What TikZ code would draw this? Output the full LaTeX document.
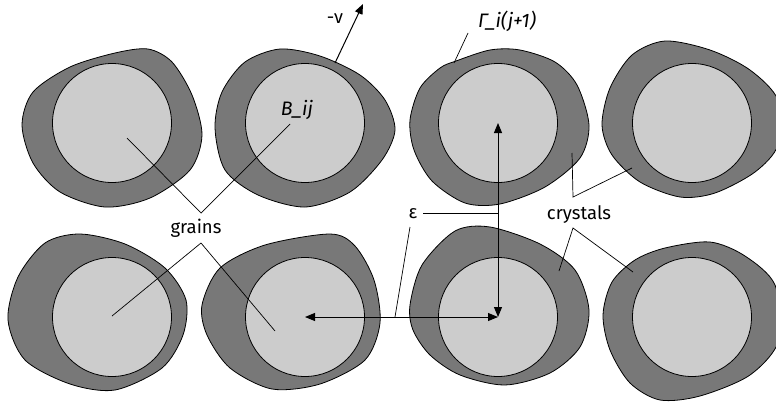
\documentclass[tikz,border=0pt]{standalone}
\usepackage{fontspec}
\setmainfont{Fira Sans}
\usetikzlibrary{arrows.meta}
\definecolor{crysgray}{RGB}{120,120,120}
\definecolor{graingray}{RGB}{204,204,204}
\begin{document}
\begin{tikzpicture}[x=1pt,y=-1pt,
  crystal/.style={draw=black, line width=0.8pt, fill=crysgray},
  grain/.style={draw=black, line width=0.8pt, fill=graingray},
  lead/.style={draw=black, line width=0.7pt},
  dimarrow/.style={draw=black, line width=1pt, {Triangle[length=10pt,width=8pt]}-{Triangle[length=10pt,width=8pt]}},
  velarrow/.style={draw=black, line width=1pt, -{Triangle[length=10pt,width=8pt]}},
  lbl/.style={font=\fontsize{18.5}{22}\selectfont, inner sep=0pt},
  ilbl/.style={font=\fontsize{19.5}{22}\selectfont\itshape, inner sep=0pt}
]
\useasboundingbox (0,0) rectangle (776,402);
\clip (0,0) rectangle (776,402);

% crystals
\draw[crystal] plot[smooth cycle] coordinates {(22,125) (33,92) (70,67) (115,53) (148,49) (172,62) (192,95) (202,135) (190,170) (150,198) (105,207) (60,192) (33,163)};
\draw[crystal] plot[smooth cycle] coordinates {(215,128) (222,92) (245,62) (280,49) (320,56) (360,75) (385,100) (395,130) (382,160) (350,192) (305,207) (258,195) (225,170)};
\draw[crystal] plot[smooth cycle] coordinates {(410,120) (420,88) (440,68) (456,61) (490,50) (520,50) (555,62) (577,85) (589,125) (580,158) (545,187) (500,204) (465,203) (432,181) (414,150)};
\draw[crystal] plot[smooth cycle] coordinates {(602,125) (610,88) (632,55) (665,41) (710,50) (750,70) (778,100) (778,145) (755,172) (715,193) (680,197) (640,182) (612,155)};
\draw[crystal] plot[smooth cycle] coordinates {(8,320) (18,277) (45,243) (80,234) (125,244) (165,268) (186,300) (183,335) (162,368) (115,390) (70,384) (25,360)};
\draw[crystal] plot[smooth cycle] coordinates {(202,305) (220,268) (265,245) (330,234) (355,246) (374,280) (380,323) (365,360) (320,384) (272,389) (230,368) (207,335)};
\draw[crystal] plot[smooth cycle] coordinates {(410,305) (422,265) (455,231) (490,227) (540,244) (575,270) (589,310) (580,347) (550,373) (505,385) (460,375) (430,355) (413,330)};
\draw[crystal] plot[smooth cycle] coordinates {(603,315) (612,282) (635,260) (665,248) (710,242) (745,256) (775,285) (779,340) (750,375) (700,396) (660,400) (630,383) (610,350)};

% grain centres
\coordinate (c1) at (112,123);
\coordinate (c2) at (305,123);
\coordinate (c3) at (498,123);
\coordinate (c4) at (692,123);
\coordinate (c5) at (112,317);
\coordinate (c6) at (305,317);
\coordinate (c7) at (498,317);
\coordinate (c8) at (692,317);
\foreach \c in {c1,c2,c3,c4,c5,c6,c7,c8}
  \draw[grain] (\c) circle[radius=59.5pt];

% labels
\node[lbl] (nu) at (335,19) {-ν};
\node[ilbl] (bij) at (297,110) {B\_ij};
\node[ilbl] (gam) at (507,21) {Γ\_i(j+1)};
\node[lbl] (grains) at (196,228) {grains};
\node[lbl] (crystals) at (579,215) {crystals};
\node[lbl] (eps) at (413,214) {ε};

% leader points
\coordinate (g1) at (127,138);
\coordinate (g2) at (290,124);
\coordinate (gtop) at (201,213);
\coordinate (g5) at (112,316);
\coordinate (g6) at (275,331);
\coordinate (gbot) at (201,243);
\coordinate (k3) at (572,153);
\coordinate (k4) at (632,168);
\coordinate (ktop) at (573,197);
\coordinate (k7) at (559,271);
\coordinate (k8) at (633,272);
\coordinate (kbot) at (573,228);
\coordinate (e1) at (423,213);
\coordinate (e2) at (498,213);
\coordinate (e3) at (410,227);
\coordinate (e4) at (395,317);
\coordinate (ga) at (468,33);
\coordinate (gb) at (454,63);
\coordinate (v0) at (335,63);
\coordinate (v1) at (363,4);

\draw[lead] (g1) -- (gtop) -- (g2);
\draw[lead] (g5) -- (gbot) -- (g6);
\draw[lead] (k3) -- (ktop) -- (k4);
\draw[lead] (k7) -- (kbot) -- (k8);
\draw[lead] (e1) -- (e2);
\draw[lead] (e3) -- (e4);
\draw[lead] (ga) -- (gb);

\draw[dimarrow] (c6) -- (c7);
\draw[dimarrow] (c3) -- (c7);
\draw[velarrow] (v0) -- (v1);
\end{tikzpicture}
\end{document}
